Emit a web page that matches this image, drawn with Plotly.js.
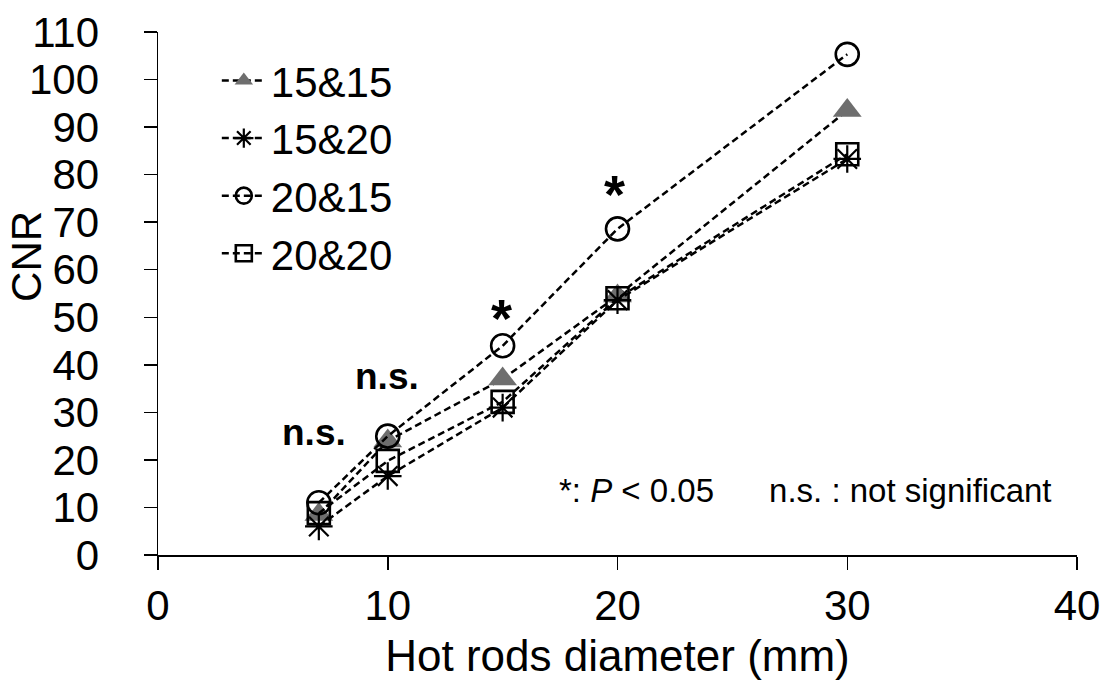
<!DOCTYPE html>
<html>
<head>
<meta charset="utf-8">
<script src="https://cdn.plot.ly/plotly-3.0.1.min.js"></script>
<style>html,body{margin:0;padding:0;background:#fff;}#chart{width:1106px;height:694px;}</style>
</head>
<body>
<div id="chart"></div>
<script>
var diameters = [7, 10, 15, 20, 30];
var seriesNames = ["15&15", "15&20", "20&15", "20&20"];
var cnr1515 = [8.5, 24, 37, 54.5, 93.5];
var cnr1520 = [6, 16.6, 31, 53.6, 83.3];
var cnr2015 = [11, 25, 44, 68.6, 105.3];
var cnr2020 = [8.8, 19.8, 32.2, 54, 84.3];
var sigLabels = ["n.s.", "n.s.", "*", "*", "*"];
var sigX = [6.79, 9.97, 14.97, 19.85, 29.95];
var sigY = [25.8, 37.6, 49.8, 75.9, 110.4];
var xTicks = [0, 10, 20, 30, 40];
var yTicks = [0, 10, 20, 30, 40, 50, 60, 70, 80, 90, 100, 110];

var FONT = "Arial, 'Liberation Sans', sans-serif";
var lineStyle = {color: "#000", width: 2.5, dash: "7px,4px"};

var traces = [
  {x: diameters, y: cnr1515, name: seriesNames[0], mode: "lines+markers", line: lineStyle,
   marker: {symbol: "triangle-up", size: 25, color: "#6e6e6e", line: {width: 0}}},
  {x: diameters, y: cnr1520, name: seriesNames[1], mode: "lines+markers", line: lineStyle,
   marker: {symbol: "asterisk-open", size: 23, color: "#000", line: {width: 2.2, color: "#000"}}},
  {x: diameters, y: cnr2015, name: seriesNames[2], mode: "lines+markers", line: lineStyle,
   marker: {symbol: "circle-open", size: 23, color: "#000", line: {width: 2.6, color: "#000"}}},
  {x: diameters, y: cnr2020, name: seriesNames[3], mode: "lines+markers", line: lineStyle,
   marker: {symbol: "square-open", size: 22, color: "#000", line: {width: 2.6, color: "#000"}}}
];
traces.forEach(function(t){ t.cliponaxis = false; });

var annotations = sigLabels.map(function(s, i){
  var isStar = s === "*";
  return {x: sigX[i], y: sigY[i], xref: "x", yref: "y", text: "<b>" + s + "</b>", showarrow: false,
    font: {family: FONT, size: isStar ? 54 : 37, color: "#000"}, xanchor: "center", yanchor: "middle"};
});
annotations.push({x: 0.975, y: 0.124, xref: "paper", yref: "paper", xanchor: "right", yanchor: "middle",
  text: "*: <i>P</i> &lt; 0.05&nbsp;&nbsp;&nbsp;&nbsp;&nbsp; n.s. : not significant", showarrow: false,
  font: {family: FONT, size: 33, color: "#000"}});
annotations.push({x: -0.1425, y: 0.57, xref: "paper", yref: "paper", xanchor: "center", yanchor: "middle",
  text: "CNR", textangle: -90, showarrow: false, font: {family: FONT, size: 42, color: "#000"}});

var layout = {
  width: 1106, height: 694,
  margin: {l: 158, r: 29, t: 32, b: 139},
  paper_bgcolor: "#fff", plot_bgcolor: "#fff",
  font: {family: FONT, color: "#000"},
  showlegend: true,
  legend: {x: 0.064, y: 0.972, xanchor: "left", yanchor: "top", bgcolor: "rgba(0,0,0,0)",
    font: {family: FONT, size: 42, color: "#000"}, tracegroupgap: 0, itemwidth: 44},
  xaxis: {range: [0, 40], tickvals: xTicks, ticktext: xTicks.map(String), showgrid: false, zeroline: false,
    showline: true, linecolor: "#000", linewidth: 1.5, ticks: "outside", ticklen: 13, tickwidth: 1.5, tickcolor: "#000",
    tickfont: {family: FONT, size: 42, color: "#000"},
    title: {text: "Hot rods diameter (mm)", font: {family: FONT, size: 44, color: "#000"}, standoff: 12}},
  yaxis: {range: [0, 110], tickvals: yTicks, ticktext: yTicks.map(String), showgrid: false, zeroline: false,
    showline: true, linecolor: "#000", linewidth: 1.5, ticks: "outside", ticklen: 13, tickwidth: 1.5, tickcolor: "#000",
    ticklabelstandoff: 36,
    tickfont: {family: FONT, size: 42, color: "#000"}},
  annotations: annotations
};

Plotly.newPlot("chart", traces, layout, {staticPlot: true});
</script>
</body>
</html>
